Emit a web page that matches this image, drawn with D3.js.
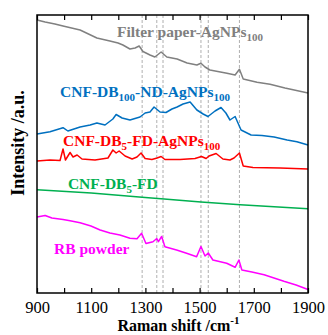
<!DOCTYPE html>
<html>
<head>
<meta charset="utf-8">
<script src="https://cdn.jsdelivr.net/npm/d3@7"></script>
<style>
  body { margin: 0; background: #fff; }
  svg { display: block; font-family: "Liberation Serif", "Times New Roman", serif; }
</style>
</head>
<body>
<div id="chart"></div>
<script>
// spectra: [Raman shift cm-1, intensity a.u. (stacked offset)]
const filterPaper = [
  [900, 273], [930, 271], [966, 269], [996, 267], [1059, 263], [1121, 255], [1169, 252],
  [1199, 250], [1217, 248], [1243, 244], [1262, 245], [1277, 247], [1291, 241.5], [1317, 238],
  [1335, 236], [1358, 241], [1379, 236], [1417, 234], [1454, 230], [1490, 228], [1505, 229.7],
  [1520, 226], [1538, 223], [1601, 219.7], [1631, 218], [1647, 223.7], [1661, 214], [1712, 210.7],
  [1760, 208.7], [1815, 205], [1900, 200]
];
const cnfNdAg = [
  [900, 159], [948, 161.3], [996, 165.3], [1014, 162], [1059, 166], [1096, 168], [1121, 170],
  [1151, 168], [1180, 174], [1192, 178.5], [1214, 175], [1243, 173], [1280, 176], [1299, 180],
  [1317, 181], [1332, 186], [1354, 181], [1376, 180.5], [1398, 184], [1417, 186], [1439, 189],
  [1465, 191], [1490, 183], [1513, 179], [1531, 176.5], [1557, 182], [1579, 185.5], [1597, 180],
  [1612, 173], [1631, 176.5], [1653, 163], [1690, 158], [1730, 157.5], [1775, 156], [1823, 153],
  [1859, 151.3], [1900, 148]
];
const cnfFdAg = [
  [900, 132], [948, 133], [985, 132.5], [996, 144], [1005, 133], [1022, 140.5], [1033, 136],
  [1048, 138], [1066, 134], [1114, 133], [1162, 135], [1180, 143], [1192, 140], [1203, 142],
  [1225, 137], [1251, 134], [1269, 136], [1284, 140], [1299, 134.5], [1324, 133.5], [1343, 135],
  [1358, 136.5], [1372, 133.5], [1428, 133.5], [1483, 134.5], [1507, 136.5], [1524, 134.5],
  [1535, 137], [1561, 139.5], [1586, 134], [1612, 133], [1627, 135], [1647, 140], [1661, 127],
  [1697, 125.5], [1797, 125], [1900, 124]
];
const cnfFd = [
  [900, 103.3], [1100, 100], [1288, 95.7], [1369, 94], [1505, 91], [1650, 88.3], [1900, 84.3]
];
const rbPowder = [
  [900, 76], [930, 77.5], [955, 75], [996, 73.5], [1022, 72.3], [1059, 70.3], [1099, 67],
  [1133, 63], [1169, 60], [1206, 58], [1243, 54.7], [1269, 54.3], [1286, 59.7], [1302, 49.5],
  [1328, 51.3], [1342, 54.5], [1348, 51.3], [1360, 56.5], [1372, 46.3], [1415, 43], [1452, 39.7],
  [1489, 36.3], [1505, 46.5], [1520, 37], [1532, 40], [1549, 33], [1600, 29.7], [1631, 25.7],
  [1645, 33], [1656, 23], [1693, 21], [1738, 18.3], [1811, 11.7], [1856, 8], [1900, 3.5]
];

const peakLines = [1288, 1342, 1365, 1505, 1532, 1647];
const xTicks = d3.range(900, 1901, 100);
const xTickLabels = [900, 1100, 1300, 1500, 1700, 1900];

// label text split into [text, isSubscript]; anchor point in data units
const series = [
  { values: filterPaper, color: '#808080', at: [1195, 256],
    label: [['Filter paper-AgNPs', false], ['100', true]] },
  { values: cnfNdAg, color: '#0070C0', at: [985, 196],
    label: [['CNF-DB', false], ['100', true], ['-ND-AgNPs', false], ['100', true]] },
  { values: cnfFdAg, color: '#FF0000', at: [996, 147],
    label: [['CNF-DB', false], ['5', true], ['-FD-AgNPs', false], ['100', true]] },
  { values: cnfFd, color: '#00B050', at: [1014, 104],
    label: [['CNF-DB', false], ['5', true], ['-FD', false]] },
  { values: rbPowder, color: '#FF00FF', at: [963, 39],
    label: [['RB powder', false]] },
];

const width = 328;
const height = 335;
const margin = { top: 15, right: 20, bottom: 42, left: 37 };

const svg = d3.select('#chart')
  .append('svg')
  .attr('width', width)
  .attr('height', height);

const x = d3.scaleLinear().domain([900, 1900]).range([margin.left, width - margin.right]);
const y = d3.scaleLinear().domain([0, 278]).range([height - margin.bottom, margin.top]);

// dashed guides at the RB peaks
svg.append('g')
  .selectAll('line')
  .data(peakLines)
  .join('line')
  .attr('x1', d => x(d)).attr('x2', d => x(d))
  .attr('y1', y.range()[1]).attr('y2', y.range()[0])
  .attr('stroke', '#9a9a9a')
  .attr('stroke-width', 0.8)
  .attr('stroke-dasharray', '3,2');

const line = d3.line().x(d => x(d[0])).y(d => y(d[1]));

svg.append('g')
  .selectAll('path')
  .data(series)
  .join('path')
  .attr('fill', 'none')
  .attr('stroke', d => d.color)
  .attr('stroke-width', 1.5)
  .attr('stroke-linejoin', 'round')
  .attr('d', d => line(d.values));

// curve labels
const labels = svg.append('g')
  .selectAll('text')
  .data(series)
  .join('text')
  .attr('x', d => x(d.at[0]))
  .attr('y', d => y(d.at[1]))
  .attr('fill', d => d.color)
  .attr('font-weight', 'bold')
  .attr('font-size', '15.5px');

labels.each(function (d) {
  const t = d3.select(this);
  let sub = false;
  d.label.forEach(([txt, isSub]) => {
    const dy = isSub && !sub ? 4 : (!isSub && sub ? -4 : 0);
    t.append('tspan')
      .attr('dy', dy)
      .attr('font-size', isSub ? '11px' : '15.5px')
      .text(txt);
    sub = isSub;
  });
});

// axes: inward ticks on bottom and top, labels every 200
const plotH = y.range()[0] - y.range()[1];

const xAxis = d3.axisBottom(x)
  .tickValues(xTicks)
  .tickSizeInner(-5)
  .tickSizeOuter(0)
  .tickPadding(8)
  .tickFormat(d => xTickLabels.includes(d) ? d : '');

const gx = svg.append('g')
  .attr('transform', `translate(0,${y.range()[0]})`)
  .call(xAxis);
gx.select('.domain').remove();
gx.selectAll('.tick line').attr('stroke', '#000').attr('stroke-width', 1.2);
gx.selectAll('.tick text')
  .attr('font-size', '16.5px')
  .attr('font-family', '"Liberation Serif", "Times New Roman", serif')
  .attr('fill', '#000');

const gxTop = svg.append('g')
  .attr('transform', `translate(0,${y.range()[1]})`)
  .call(d3.axisTop(x).tickValues(xTicks).tickSizeInner(-5).tickSizeOuter(0).tickFormat(''));
gxTop.select('.domain').remove();
gxTop.selectAll('.tick line').attr('stroke', '#000').attr('stroke-width', 1.2);

// frame
svg.append('rect')
  .attr('x', x.range()[0])
  .attr('y', y.range()[1])
  .attr('width', x.range()[1] - x.range()[0])
  .attr('height', plotH)
  .attr('fill', 'none')
  .attr('stroke', '#000')
  .attr('stroke-width', 1.5);

// axis titles
const xTitle = svg.append('text')
  .attr('x', (x.range()[0] + x.range()[1]) / 2 + 6)
  .attr('y', 331)
  .attr('text-anchor', 'middle')
  .attr('font-weight', 'bold')
  .attr('font-size', '16px');
xTitle.append('tspan').text('Raman shift /cm');
xTitle.append('tspan').attr('dy', -7).attr('font-size', '11px').text('-1');

svg.append('text')
  .attr('transform', 'translate(24,143) rotate(-90)')
  .attr('text-anchor', 'middle')
  .attr('font-weight', 'bold')
  .attr('font-size', '18px')
  .text('Intensity /a.u.');
</script>
</body>
</html>
